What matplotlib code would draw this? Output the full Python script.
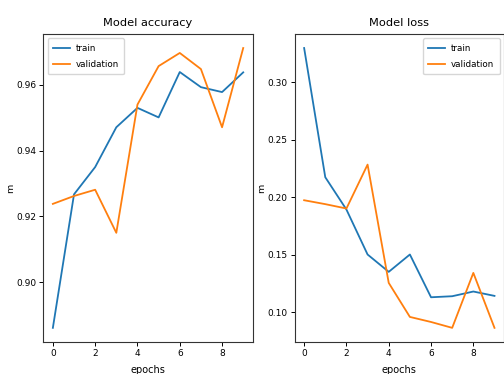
import matplotlib
matplotlib.use("Agg")
import matplotlib.pyplot as plt

# training history
epochs = list(range(10))
train_acc = [0.8861, 0.9267, 0.9350, 0.9471, 0.9530, 0.9501, 0.9639, 0.9593, 0.9578, 0.9638]
val_acc = [0.9238, 0.9262, 0.9281, 0.9150, 0.9540, 0.9657, 0.9697, 0.9648, 0.9471, 0.9712]
train_loss = [0.3298, 0.2174, 0.1893, 0.1502, 0.1351, 0.1502, 0.1130, 0.1139, 0.1180, 0.1142]
val_loss = [0.1974, 0.1940, 0.1902, 0.2284, 0.1255, 0.0959, 0.0915, 0.0864, 0.1342, 0.0864]

fig, axes = plt.subplots(1, 2, figsize=(5.04, 3.74), dpi=100)
fig.subplots_adjust(left=0.086, right=1.0, bottom=0.086, top=0.909, wspace=0.2)

panels = [
    (axes[0], train_acc, val_acc, "Model accuracy", "upper left"),
    (axes[1], train_loss, val_loss, "Model loss", "upper right"),
]
for ax, tr, va, title, loc in panels:
    ax.plot(epochs, tr, color="#1f77b4", lw=1.3, label="train")
    ax.plot(epochs, va, color="#ff7f0e", lw=1.3, label="validation")
    ax.set_title(title, fontsize=8.2, pad=6)
    ax.set_ylabel("m", fontsize=6.8, labelpad=1)
    ax.set_xlabel("epochs", fontsize=7, labelpad=5)
    ax.set_xticks([0, 2, 4, 6, 8])
    ax.tick_params(labelsize=6.5, length=3, width=0.7, pad=2)
    for s in ax.spines.values():
        s.set_linewidth(0.8)
        s.set_color("#333333")
    ax.legend(loc=loc, fontsize=6.3, handlelength=1.9, handletextpad=0.7,
              borderpad=0.6, labelspacing=0.85, borderaxespad=0.5)

fig.savefig("out.png", dpi=100)
